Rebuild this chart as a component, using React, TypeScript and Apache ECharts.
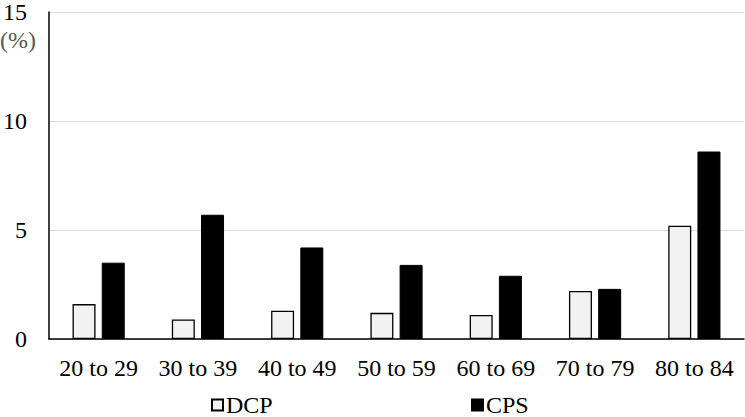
import React, { useEffect, useRef } from "react";
import * as echarts from "echarts";

const categories = ["20 to 29", "30 to 39", "40 to 49", "50 to 59", "60 to 69", "70 to 79", "80 to 84"];
const dcpValues = [1.6, 0.9, 1.3, 1.2, 1.1, 2.2, 5.2];
const cpsValues = [3.5, 5.7, 4.2, 3.4, 2.9, 2.3, 8.6];
const yTicks = { min: 0, max: 15, interval: 5 };
const unitLabel = "(%)";

const FONT = "Liberation Serif";

export default function App() {
  const ref = useRef<HTMLDivElement>(null);
  useEffect(() => {
    if (!ref.current) return;
    const chart = echarts.init(ref.current, undefined, { renderer: "svg" });
    const legendBase = {
      top: 393,
      icon: "rect",
      itemWidth: 11,
      itemHeight: 11,
      itemGap: 0,
      padding: 0,
      textStyle: { fontFamily: FONT, fontSize: 24, color: "#000", padding: [0, 0, 0, -2] },
    };
    chart.setOption({
      animation: false,
      backgroundColor: "#ffffff",
      textStyle: { fontFamily: FONT },
      grid: { left: 48, right: 1, top: 10, bottom: 78, containLabel: false },
      legend: [
        { ...legendBase, data: ["DCP"], left: 211 },
        { ...legendBase, data: ["CPS"], left: 471 },
      ],
      xAxis: {
        type: "category",
        data: categories,
        axisLine: { show: true, lineStyle: { color: "#000", width: 1.5 } },
        axisTick: { show: false },
        axisLabel: { fontFamily: FONT, fontSize: 24, color: "#000", margin: 17, interval: 0 },
      },
      yAxis: {
        type: "value",
        min: yTicks.min,
        max: yTicks.max,
        interval: yTicks.interval,
        axisLine: { show: true, lineStyle: { color: "#000", width: 1.5 } },
        axisTick: { show: false },
        splitLine: { show: true, lineStyle: { color: "#d9d9d9", width: 1 } },
        axisLabel: { fontFamily: FONT, fontSize: 24, color: "#000", margin: 22 },
      },
      graphic: [
        {
          type: "text",
          left: 0,
          top: 28,
          style: { text: unitLabel, fontFamily: FONT, fontSize: 24, fill: "#595959" },
        },
      ],
      series: [
        {
          name: "DCP",
          type: "bar",
          data: dcpValues,
          barWidth: 23,
          barGap: "27%",
          itemStyle: { color: "#f2f2f2", borderColor: "#000", borderWidth: 1.3 },
        },
        {
          name: "CPS",
          type: "bar",
          data: cpsValues,
          barWidth: 23,
          itemStyle: { color: "#000", borderColor: "#000", borderWidth: 1 },
        },
      ],
    });
    return () => chart.dispose();
  }, []);
  return (
    <div
      ref={ref}
      style={{ width: 745, height: 417, position: "absolute", left: 0, top: 0 }}
    />
  );
}
